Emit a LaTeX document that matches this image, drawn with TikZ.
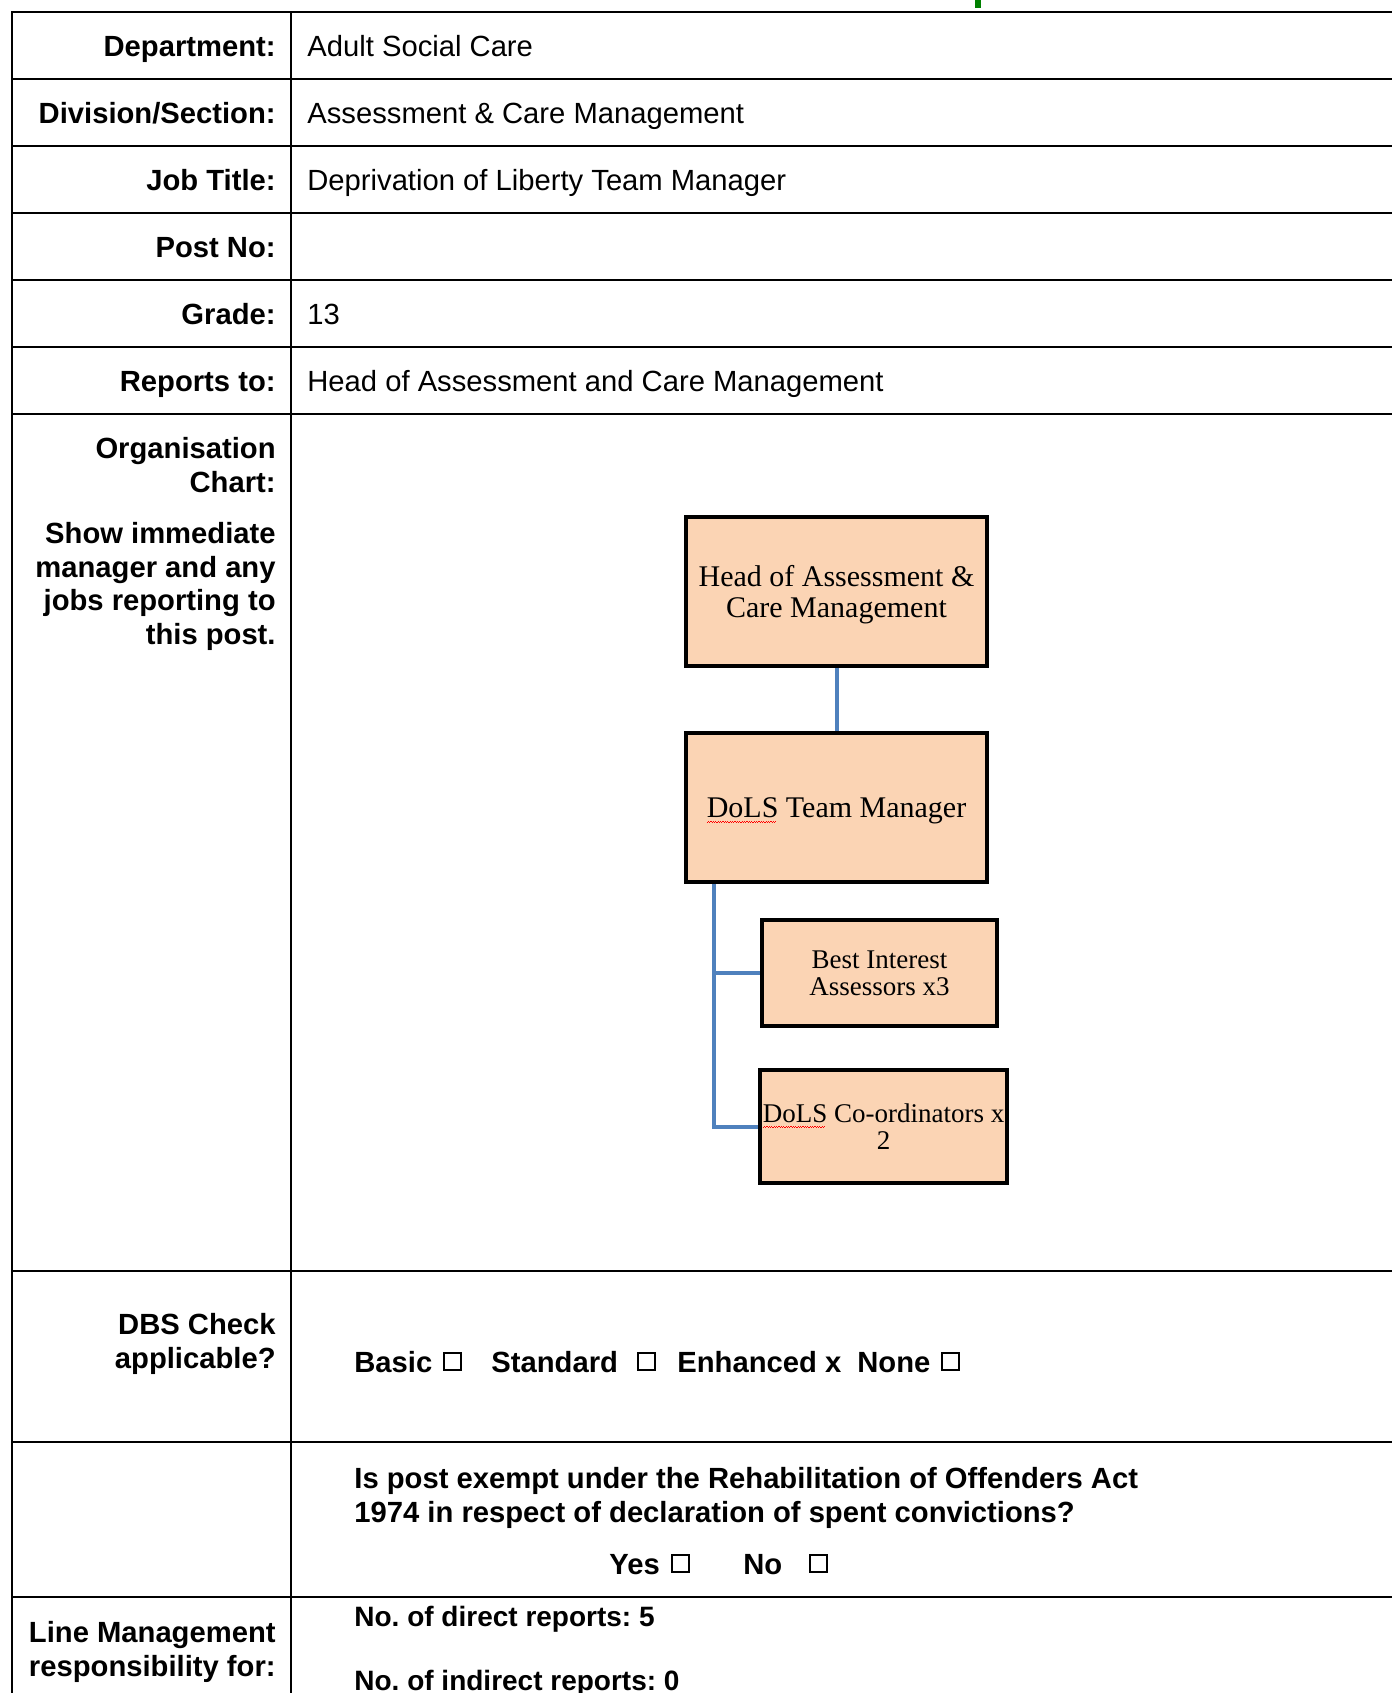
\documentclass[tikz,border=0pt]{standalone}
\usepackage{fontspec}
\setmainfont{Liberation Sans}
\newfontfamily\chartfont{Liberation Serif}
\usetikzlibrary{calc}
\definecolor{peach}{HTML}{FBD4B4}
\definecolor{linkblue}{HTML}{4F81BD}
\definecolor{markgreen}{HTML}{008000}
\frenchspacing
\newcommand\formsize{\fontsize{14.6}{16.75}\selectfont}
\newlength\spellw
\newcommand\spellwave[1]{\settowidth\spellw{#1}\leavevmode\rlap{\color{red}\raisebox{-2.5pt}[0pt][0pt]{\hbox to\spellw{\leaders\hbox{\rule{0.6pt}{0.45pt}\rule[0.45pt]{0.6pt}{0.45pt}}\hfill}}}#1}
\begin{document}
\begin{tikzpicture}[x=0.5pt,y=-0.5pt,
	rule/.style={line width=1pt},
	lab/.style={font=\bfseries\formsize,inner sep=0pt},
	val/.style={font=\formsize,inner sep=0pt},
	count/.style={font=\bfseries\fontsize{14}{16}\selectfont,inner sep=0pt},
	chk/.style={draw,line width=1.3pt,minimum size=8.5pt,inner sep=0pt},
	box/.style={draw,line width=2.25pt,fill=peach,inner sep=0pt,align=center},
	post/.style={box,text depth=0pt,font=\chartfont\fontsize{15}{15.5}\selectfont},
	subpost/.style={box,font=\chartfont\fontsize{13.5}{13.3}\selectfont},
	link/.style={draw=linkblue,line width=2pt}]
	\useasboundingbox (0,0) rectangle (1392,1693);
	\fill[markgreen] (975,0) rectangle (981,8);
	% table frame
	\draw[rule] (1392,12) -- (12,12) -- (12,1693);
	\draw[rule] (291,12) -- (291,1693);
	\foreach \y in {79,146,213,280,347,414,1271,1442,1597}
		\draw[rule] (12,\y) -- (1392,\y);
	% header rows
	\foreach \yc/\lab/\val [count=\i] in {45.5/Department:/Adult Social Care,112.5/{Division/Section:}/Assessment \& Care Management,179.5/Job Title:/Deprivation of Liberty Team Manager,246.5/Post No:/,313.5/Grade:/13,380.5/Reports to:/Head of Assessment and Care Management}{
		\node[lab,anchor=base east] (lab\i) at (276,\yc+10.5) {\lab};
		\node[val,anchor=base west] (val\i) at (307,\yc+10.5) {\val};
	}
	\node[lab,anchor=north east,align=right] (orglab) at (276,437) {Organisation\\Chart:};
	\node[lab,anchor=north east,align=right] (showlab) at (276,522) {Show immediate\\manager and any\\jobs reporting to\\this post.};
	\node[lab,anchor=north east,align=right] (dbslab) at (276,1313) {DBS Check\\applicable?};
	\node[lab,anchor=north east,align=right] (linelab) at (276,1621) {Line Management\\responsibility for:};
	% organisation chart
	\node[post,minimum width=150.5pt,minimum height=74.5pt] (head) at (836.5,591.5) {Head of Assessment \&\\Care Management};
	\node[post,minimum width=150.5pt,minimum height=74.5pt] (mgr) at (836.5,807.5) {\spellwave{DoLS} Team Manager};
	\node[subpost,minimum width=117.5pt,minimum height=53pt] (bia) at (879.5,973) {Best Interest\\Assessors x3};
	\node[subpost,minimum width=123.5pt,minimum height=56.5pt] (coord) at (883.5,1126.5) {\spellwave{DoLS} Co-ordinators x\\2};
	\coordinate (trunk) at ($(mgr.south west)+(30,0)$);
	\draw[link] (head) -- (mgr);
	\draw[link] (trunk) |- (bia.west);
	\draw[link] (trunk) |- (coord.west);
	% DBS check
	\node[lab,anchor=base west] (basic) at (354,1372) {Basic};
	\node[chk] (basicbox) at (452.5,1361.5) {};
	\node[lab,anchor=base west] (standard) at (491,1372) {Standard};
	\node[chk] (standardbox) at (646.5,1361.5) {};
	\node[lab,anchor=base west] (enhanced) at (677,1372) {Enhanced x};
	\node[lab,anchor=base west] (none) at (857,1372) {None};
	\node[chk] (nonebox) at (950.5,1361.5) {};
	% rehabilitation of offenders
	\node[lab,anchor=north west,align=left] (exempt) at (354,1467) {Is post exempt under the Rehabilitation of Offenders Act\\1974 in respect of declaration of spent convictions?};
	\node[lab,anchor=base west] (yes) at (609,1574) {Yes};
	\node[chk] (yesbox) at (680.5,1563.5) {};
	\node[lab,anchor=base west] (no) at (743,1574) {No};
	\node[chk] (nobox) at (818.5,1563.5) {};
	% line management
	\node[count,anchor=base west] (direct) at (354,1626) {No. of direct reports: 5};
	\node[count,anchor=base west] (indirect) at (354,1690) {No. of indirect reports: 0};
\end{tikzpicture}
\end{document}
